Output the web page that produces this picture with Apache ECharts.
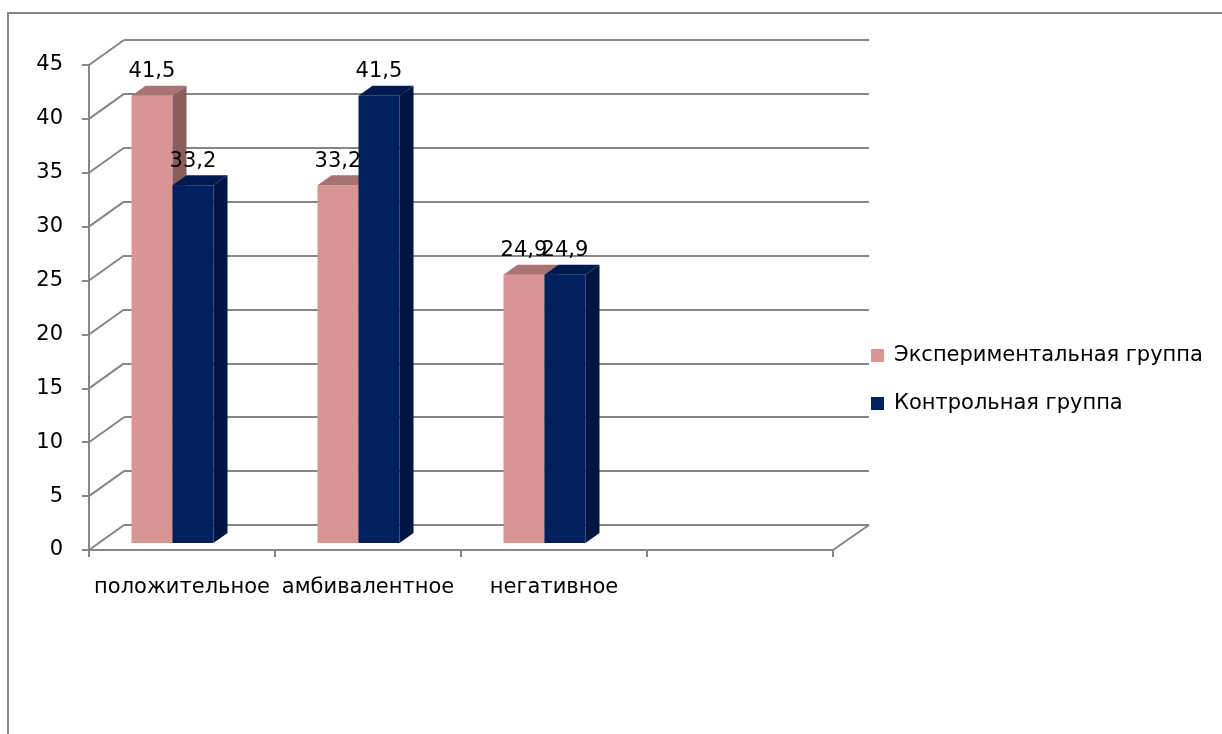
<!DOCTYPE html>
<html>
<head>
<meta charset="utf-8">
<script src="https://cdn.jsdelivr.net/npm/echarts@6/dist/echarts.min.js"></script>
<style>
  html, body { margin: 0; padding: 0; background: #fff; }
  #chart { width: 1222px; height: 734px; }
</style>
</head>
<body>
<div id="chart"></div>
<script>
// Categories (the fourth slot is an empty category of the 3D floor)
const categories = ['положительное', 'амбивалентное', 'негативное', ''];
const seriesNames = ['Экспериментальная группа', 'Контрольная группа'];
const experimental = [41.5, 33.2, 24.9];
const control = [33.2, 41.5, 24.9];
const yTicks = [0, 5, 10, 15, 20, 25, 30, 35, 40, 45];

const FONT = 'DejaVu Sans';
const FONT_SIZE = 21;
const LINE = '#868686';
const LINE_W = 2;
const WALL_DEPTH = [35, -25];     // offset of the back wall from the front plane
const BAR_DEPTH = [14, -10];      // depth of each 3D column
const BAR_SHIFT = [-9.5, -7];     // column front plane relative to the category centre
const BAR_W = 41;

const faces = [
  { front: '#D99594', top: '#A97372', side: '#8B5E5E' },
  { front: '#002060', top: '#001A4F', side: '#001542' }
];

const fmt = v => String(v).replace('.', ',');

// Draws one 3D column (front, top, side faces) plus its value label
function columnRenderer(k) {
  return function (params, api) {
    const c = api.value(0), v = api.value(1);
    const top = api.coord([c, v]);
    const base = api.coord([c, 0]);
    const cx = top[0] + BAR_SHIFT[0];
    const x0 = k === 0 ? cx - BAR_W : cx;
    const x1 = x0 + BAR_W;
    const yT = top[1] + BAR_SHIFT[1];
    const yB = base[1] + BAR_SHIFT[1];
    const dx = BAR_DEPTH[0], dy = BAR_DEPTH[1];
    const f = faces[k];
    return {
      type: 'group',
      children: [
        { type: 'polygon', shape: { points: [[x0, yT], [x1, yT], [x1, yB], [x0, yB]] }, style: { fill: f.front } },
        { type: 'polygon', shape: { points: [[x0, yT], [x0 + dx, yT + dy], [x1 + dx, yT + dy], [x1, yT]] }, style: { fill: f.top } },
        { type: 'polygon', shape: { points: [[x1, yT], [x1 + dx, yT + dy], [x1 + dx, yB + dy], [x1, yB]] }, style: { fill: f.side } },
        {
          type: 'text', x: (x0 + x1) / 2, y: yT + dy - 14, z2: 10,
          style: { text: fmt(v), fill: '#000', fontSize: FONT_SIZE, fontFamily: FONT, align: 'center', verticalAlign: 'middle' }
        }
      ]
    };
  };
}

// Side-wall and floor edges joining the front plane to the back wall
function wallRenderer(params, api) {
  const v = api.value(1);
  const cs = params.coordSys;
  const p = api.coord([0, v]);
  const style = { stroke: LINE, lineWidth: LINE_W, fill: null };
  const children = [
    { type: 'line', shape: { x1: cs.x, y1: p[1], x2: cs.x + WALL_DEPTH[0], y2: p[1] + WALL_DEPTH[1] }, style }
  ];
  if (v === 0) {
    const xr = cs.x + cs.width;
    children.push({ type: 'line', shape: { x1: xr, y1: p[1], x2: xr + WALL_DEPTH[0] + 1, y2: p[1] + WALL_DEPTH[1] }, style });
  }
  return { type: 'group', children };
}

const chart = echarts.init(document.getElementById('chart'), null, { renderer: 'canvas' });

chart.setOption({
  animation: false,
  backgroundColor: '#fff',
  graphic: [{
    type: 'rect', silent: true, z: -1,
    shape: { x: 8, y: 13, width: 1400, height: 900 },
    style: { fill: 'none', stroke: LINE, lineWidth: LINE_W }
  }],
  legend: {
    orient: 'vertical', left: 866, top: 340,
    icon: 'rect', itemWidth: 13, itemHeight: 13, itemGap: 27,
    textStyle: { fontFamily: FONT, fontSize: FONT_SIZE, color: '#000', padding: [0, 0, 0, 5] },
    data: seriesNames
  },
  grid: [
    { left: 89, right: 389, top: 65, bottom: 184 },   // front plane
    { left: 124, right: 353, top: 40, bottom: 209 }   // back wall
  ],
  xAxis: [
    {
      gridIndex: 0, type: 'category', data: categories, boundaryGap: true,
      axisLine: { lineStyle: { color: LINE, width: LINE_W } },
      axisTick: { show: true, length: 7, lineStyle: { color: LINE, width: LINE_W } },
      axisLabel: { interval: 0, margin: 27, fontSize: FONT_SIZE, fontFamily: FONT, color: '#000' },
      splitLine: { show: false }
    },
    { gridIndex: 1, type: 'category', data: categories, show: false }
  ],
  yAxis: [
    {
      gridIndex: 0, type: 'value', min: 0, max: 45, interval: 5,
      axisLine: { show: true, lineStyle: { color: LINE, width: LINE_W } },
      axisTick: { show: true, length: 7, lineStyle: { color: LINE, width: LINE_W } },
      axisLabel: { margin: 26, fontSize: FONT_SIZE, fontFamily: FONT, color: '#000' },
      splitLine: { show: false }
    },
    {
      gridIndex: 1, type: 'value', min: 0, max: 45, interval: 5,
      axisLine: { show: false }, axisTick: { show: false }, axisLabel: { show: false },
      splitLine: { show: true, lineStyle: { color: LINE, width: LINE_W } }
    }
  ],
  series: [
    {
      type: 'custom', name: 'walls', xAxisIndex: 0, yAxisIndex: 0, z: 1, silent: true,
      renderItem: wallRenderer,
      data: yTicks.map(v => [0, v])
    },
    {
      type: 'custom', name: seriesNames[0], xAxisIndex: 0, yAxisIndex: 0, z: 3,
      itemStyle: { color: faces[0].front },
      renderItem: columnRenderer(0),
      data: experimental.map((v, i) => [i, v])
    },
    {
      type: 'custom', name: seriesNames[1], xAxisIndex: 0, yAxisIndex: 0, z: 3,
      itemStyle: { color: faces[1].front },
      renderItem: columnRenderer(1),
      data: control.map((v, i) => [i, v])
    }
  ]
});
</script>
</body>
</html>
